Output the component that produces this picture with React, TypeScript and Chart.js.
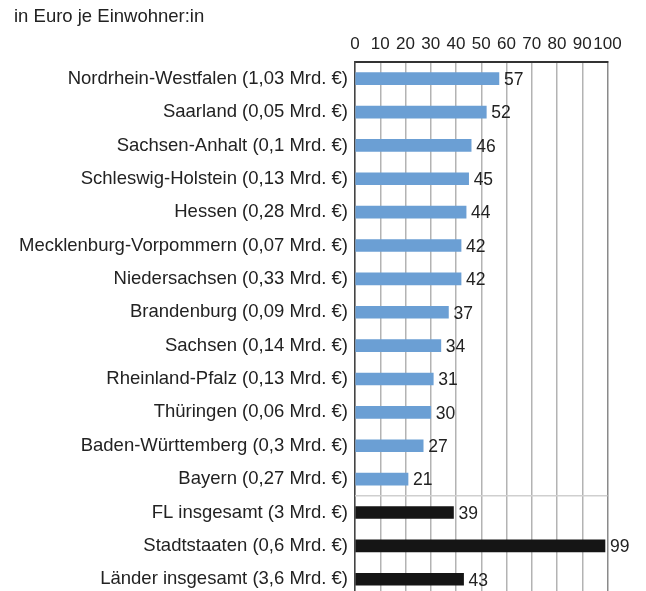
import React, { useEffect, useRef } from "react";
import { Chart, registerables } from "chart.js";

Chart.register(...registerables);

const TITLE = "in Euro je Einwohner:in";

const CATEGORIES = [
  "Nordrhein-Westfalen (1,03 Mrd. €)",
  "Saarland (0,05 Mrd. €)",
  "Sachsen-Anhalt (0,1 Mrd. €)",
  "Schleswig-Holstein (0,13 Mrd. €)",
  "Hessen (0,28 Mrd. €)",
  "Mecklenburg-Vorpommern (0,07 Mrd. €)",
  "Niedersachsen (0,33 Mrd. €)",
  "Brandenburg (0,09 Mrd. €)",
  "Sachsen (0,14 Mrd. €)",
  "Rheinland-Pfalz (0,13 Mrd. €)",
  "Thüringen (0,06 Mrd. €)",
  "Baden-Württemberg (0,3 Mrd. €)",
  "Bayern (0,27 Mrd. €)",
  "FL insgesamt (3 Mrd. €)",
  "Stadtstaaten (0,6 Mrd. €)",
  "Länder insgesamt (3,6 Mrd. €)",
];

const VALUES = [57, 52, 46, 45, 44, 42, 42, 37, 34, 31, 30, 27, 21, 39, 99, 43];

// group: 0 = Flächenländer (blue), 1 = totals (black)
const GROUPS = [0, 0, 0, 0, 0, 0, 0, 0, 0, 0, 0, 0, 0, 1, 1, 1];

const X_MIN = 0;
const X_MAX = 100;
const X_STEP = 10;

const BLUE = "#6b9fd4";
const BLACK = "#151515";
const TEXT = "#222222";
const FONT = "'Liberation Sans', Arial, Helvetica, sans-serif";

export default function App() {
  const ref = useRef<HTMLCanvasElement | null>(null);

  useEffect(() => {
    if (!ref.current) return;

    const valueLabels = {
      id: "valueLabels",
      afterDatasetsDraw(chart: any) {
        const { ctx } = chart;
        const meta = chart.getDatasetMeta(0);
        ctx.save();
        ctx.font = `17.5px ${FONT}`;
        ctx.fillStyle = TEXT;
        ctx.textAlign = "left";
        ctx.textBaseline = "middle";
        meta.data.forEach((bar: any, i: number) => {
          ctx.fillText(String(VALUES[i]), bar.x + 5, bar.y + 1.5);
        });
        ctx.restore();
      },
    };

    const separator = {
      id: "separator",
      beforeDatasetsDraw(chart: any) {
        const { ctx, chartArea } = chart;
        const y = chart.scales.y;
        const firstTotal = GROUPS.indexOf(1);
        const yy = (y.getPixelForValue(firstTotal - 1) + y.getPixelForValue(firstTotal)) / 2;
        ctx.save();
        ctx.strokeStyle = "#cfcfcf";
        ctx.lineWidth = 1.5;
        ctx.beginPath();
        ctx.moveTo(chartArea.left, yy);
        ctx.lineTo(chartArea.right, yy);
        ctx.stroke();
        ctx.restore();
      },
    };

    const titlePlugin = {
      id: "topTitle",
      afterDraw(chart: any) {
        const { ctx } = chart;
        ctx.save();
        ctx.font = `18.5px ${FONT}`;
        ctx.fillStyle = TEXT;
        ctx.textAlign = "left";
        ctx.textBaseline = "middle";
        ctx.fillText(TITLE, 14, 17);
        ctx.restore();
      },
    };

    const chart = new Chart(ref.current, {
      type: "bar",
      data: {
        labels: CATEGORIES,
        datasets: [
          {
            data: VALUES,
            backgroundColor: GROUPS.map((g) => (g === 0 ? BLUE : BLACK)),
            borderWidth: 0,
            barThickness: 12,
          },
        ],
      },
      options: {
        indexAxis: "y",
        responsive: false,
        animation: false,
        devicePixelRatio: 1,
        layout: { padding: { left: 0, right: 38.5, top: 0, bottom: 6 } },
        plugins: {
          legend: { display: false },
          tooltip: { enabled: false },
          title: { display: false },
        },
        scales: {
          x: {
            position: "top",
            min: X_MIN,
            max: X_MAX,
            afterFit(scale: any) {
              scale.height = 62;
            },
            ticks: {
              stepSize: X_STEP,
              color: TEXT,
              font: { family: FONT, size: 17 },
              padding: 7,
              maxRotation: 0,
              autoSkip: false,
            },
            grid: {
              drawTicks: false,
              color: (c: any) => (c.index === 10 ? "#8a8a8a" : "#b3b3b3"),
              lineWidth: 1.5,
            },
            border: { display: true, color: "#333333", width: 2 },
          },
          y: {
            afterFit(scale: any) {
              scale.width = 355;
            },
            ticks: {
              color: TEXT,
              font: { family: FONT, size: 18.5 },
              padding: 7,
              autoSkip: false,
            },
            grid: { display: false, drawTicks: false },
            border: { display: true, color: "#444444", width: 1.5 },
          },
        },
      },
      plugins: [separator, valueLabels, titlePlugin],
    } as any);

    return () => chart.destroy();
  }, []);

  return (
    <div
      style={{
        position: "fixed",
        left: 0,
        top: 0,
        width: 646,
        height: 591,
        overflow: "hidden",
        background: "#ffffff",
      }}
    >
      <canvas ref={ref} width={646} height={614} style={{ display: "block" }} />
    </div>
  );
}
